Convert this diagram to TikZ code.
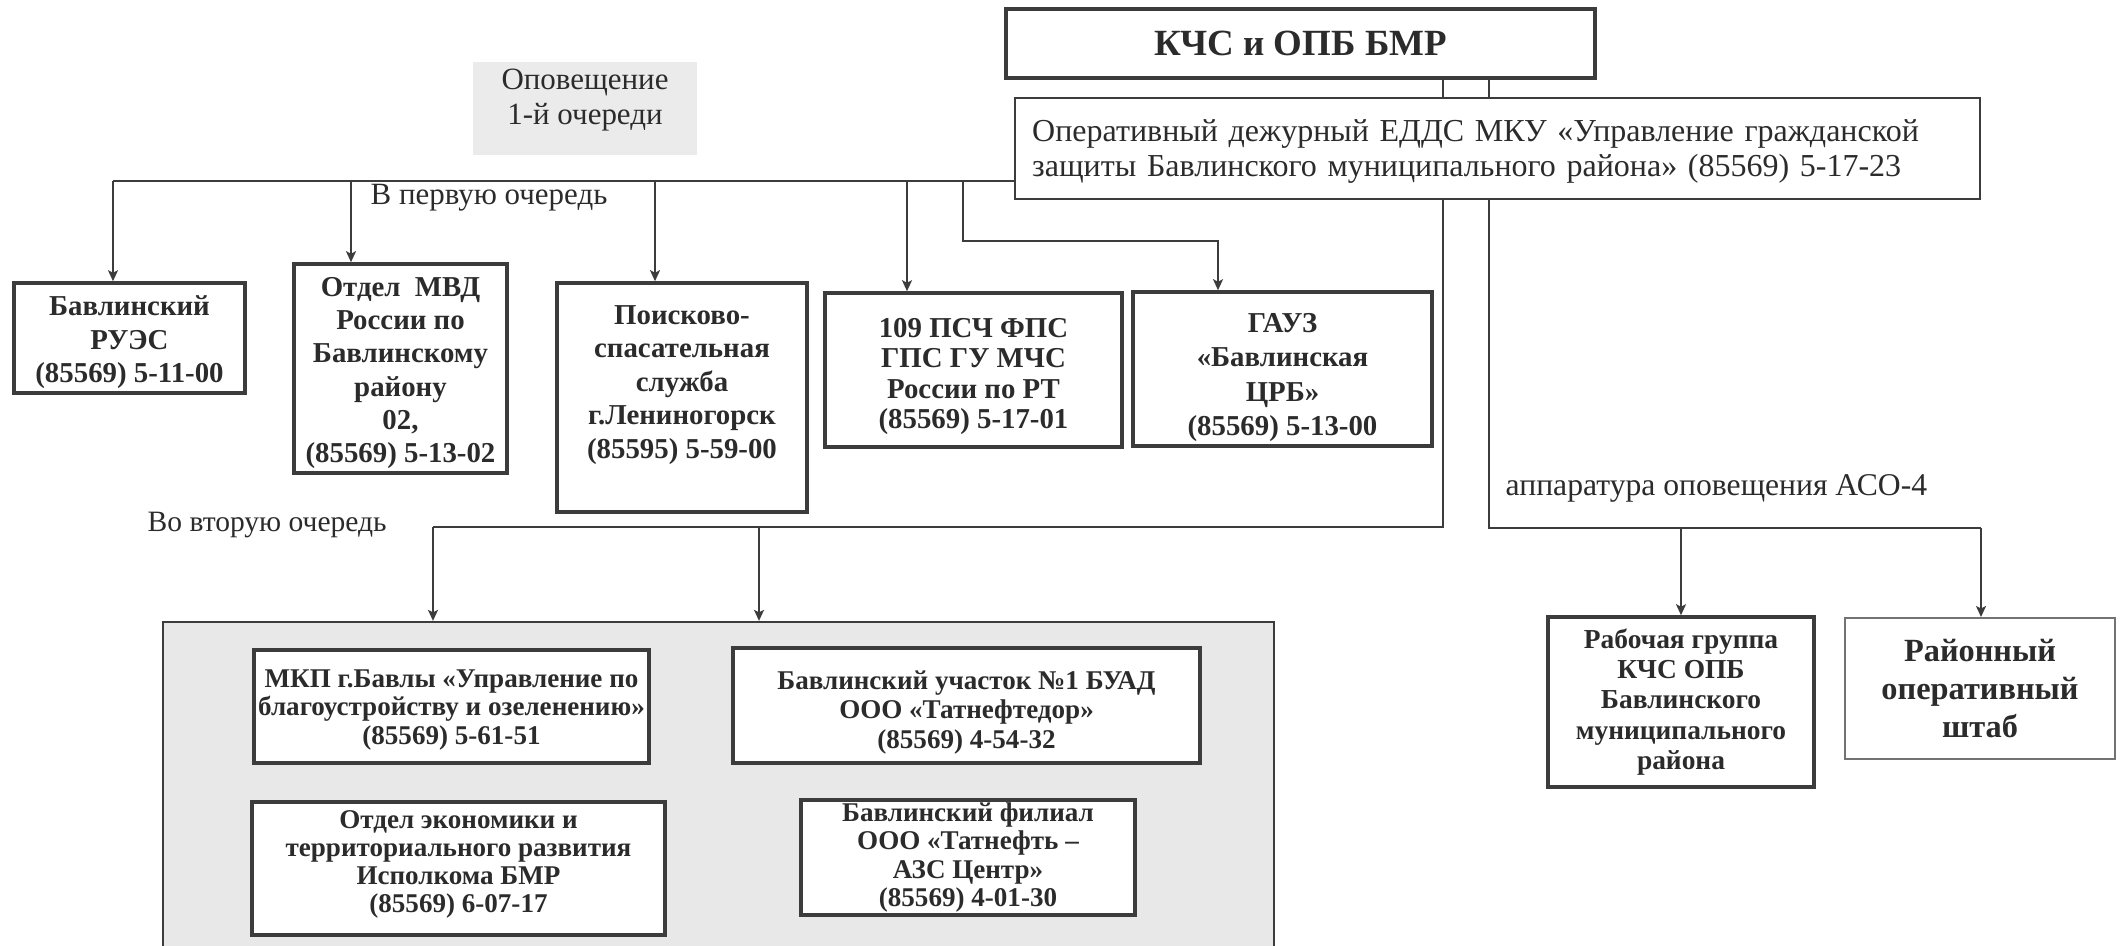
\documentclass[tikz,border=0pt]{standalone}
\usepackage{fontspec}
\setmainfont{Liberation Serif}
\usetikzlibrary{arrows.meta}
\definecolor{ink}{HTML}{2B2B2B}
\definecolor{lin}{HTML}{3C3C3C}
\definecolor{grayfill}{HTML}{E8E8E8}
\definecolor{opfill}{HTML}{EBEBEB}
\newcommand\tpad[1]{\rule{0pt}{#1}}
\begin{document}
\begin{tikzpicture}[x=0.01cm,y=-0.01cm,
  bx/.style={draw=lin, line width=1pt, fill=white, inner sep=0pt, align=center, text=ink},
  thinbx/.style={draw=lin, line width=0.55pt, fill=white, inner sep=0pt, text=ink},
  ln/.style={draw=lin, line width=0.5pt},
  arr/.style={ln, -{Stealth[length=1.1mm,width=1mm,inset=0.25mm]}},
  lbl/.style={text=ink, inner sep=0pt, font=\fontsize{8.8}{10}\selectfont},
  bfa/.style={font=\fontsize{8.2}{#1}\selectfont\bfseries},
  bfl/.style={font=\fontsize{7.7}{#1}\selectfont\bfseries},
  sz/.style 2 args={minimum width=#1cm, minimum height=#2cm}
]
\useasboundingbox[fill=white] (0,0) rectangle (2121,945);

% top
\node[bx, line width=1.3pt, sz={5.89}{0.69}, font=\fontsize{10.5}{12}\selectfont\bfseries] (kcs) at (1300.5,43.5) {КЧС и ОПБ БМР};
\node[thinbx, sz={9.65}{1.01}, align=left, text width=9.3cm, font=\fontsize{9.1}{9.8}\selectfont] (op) at (1497.5,148.5) {\tpad{7.9pt}Оперативный дежурный ЕДДС МКУ «Управление гражданской\\защиты Бавлинского муниципального района» (85569) 5-17-23};

\node[fill=opfill, inner sep=0pt, sz={2.24}{0.93}] (opov) at (585,108.5) {};
\node[lbl, align=center] (opovT) at (585,100) {Оповещение\\1-й очереди};

\node[lbl, anchor=west] (lab1) at (370,198) {В первую очередь};
\node[lbl, anchor=west, font=\fontsize{8.4}{10}\selectfont] (lab2) at (147,525) {Во вторую очередь};
\node[lbl, anchor=west, font=\fontsize{9}{10}\selectfont] (lab3) at (1505,488) {аппаратура оповещения АСО-4};

% first row
\node[bx, bfa=9.5, sz={2.31}{1.10}] (bavl) at (129.5,338) {\tpad{8pt}Бавлинский\\РУЭС\\(85569) 5-11-00};
\node[bx, bfa=9.4, sz={2.13}{2.09}] (mvd) at (400.5,368.5) {\tpad{8pt}Отдел~~МВД\\России по\\Бавлинскому\\району\\02,\\(85569) 5-13-02};
\node[bx, sz={2.50}{2.29}] (poisk) at (682,397.5) {};
\node[text=ink, align=center, inner sep=0pt, bfa=9.5] (poiskT) at (682,385) {Поисково-\\спасательная\\служба\\г.Лениногорск\\(85595) 5-59-00};
\node[bx, bfa=8.6, sz={2.97}{1.54}] (psch) at (973.5,370) {\tpad{9.1pt}109 ПСЧ ФПС\\ГПС ГУ МЧС\\России по РТ\\(85569) 5-17-01};
\node[bx, bfa=9.7, sz={2.99}{1.54}] (gauz) at (1282.5,369) {\tpad{10.3pt}ГАУЗ\\«Бавлинская\\ЦРБ»\\(85569) 5-13-00};

% right
\node[bx, sz={2.66}{1.70}, font=\fontsize{7.8}{8.6}\selectfont\bfseries] (rab) at (1681,702) {Рабочая группа\\КЧС ОПБ\\Бавлинского\\муниципального\\района};
\node[thinbx, draw=black!55, align=center, sz={2.70}{1.41}, font=\fontsize{9.2}{10.8}\selectfont\bfseries] (raion) at (1980,688.5) {Районный\\оперативный\\штаб};

% second group
\node[draw=lin, line width=0.6pt, fill=grayfill, inner sep=0pt, sz={11.11}{3.28}] (grp) at (718.5,786) {};
\node[bx, bfl=8, sz={3.95}{1.13}] (mkp) at (451.5,706.5) {\tpad{7pt}МКП г.Бавлы «Управление по\\благоустройству и озеленению»\\(85569) 5-61-51};
\node[bx, bfl=7.9, sz={4.13}{1.33}] (econ) at (458.5,868.5) {Отдел экономики и\\территориального развития\\Исполкома БМР\\(85569) 6-07-17\rule[-4pt]{0pt}{0pt}};
\node[bx, bfl=8.4, sz={4.67}{1.15}] (buad) at (966.5,705.5) {\tpad{9.3pt}Бавлинский участок №1 БУАД\\ООО «Татнефтедор»\\(85569) 4-54-32};
\node[bx, bfl=8, sz={3.34}{1.15}] (azs) at (968,857.5) {Бавлинский филиал\\ООО «Татнефть –\\АЗС Центр»\\(85569) 4-01-30};

% coordinates
\coordinate (kx1) at (1443,0);
\coordinate (kx2) at (1489,0);
\coordinate (t0) at (113,181);
\coordinate (t1) at (351,181);
\coordinate (t2) at (655,181);
\coordinate (t3) at (907,181);
\coordinate (g0) at (963,181);
\coordinate (g1) at (963,241);
\coordinate (g2) at (1218,241);
\coordinate (w0) at (433,527);
\coordinate (w1) at (759,527);
\coordinate (r0) at (1489,528);
\coordinate (r1) at (1681,528);
\coordinate (r2) at (1981,528);

% connectors
\draw[ln] (kx1 |- kcs.south) -- (kx1 |- op.north);
\draw[ln] (kx2 |- kcs.south) -- (kx2 |- op.north);
\draw[ln] (op.west |- t0) -- (t0);
\draw[arr] (t0) -- (t0 |- bavl.north);
\draw[arr] (t1) -- (t1 |- mvd.north);
\draw[arr] (t2) -- (t2 |- poisk.north);
\draw[arr] (t3) -- (t3 |- psch.north);
\draw[arr] (g0) -- (g1) -- (g2) -- (g2 |- gauz.north);
\draw[ln] (kx1 |- op.south) -- (kx1 |- w0) -- (w0);
\draw[arr] (w0) -- (w0 |- grp.north);
\draw[arr] (w1) -- (w1 |- grp.north);
\draw[ln] (kx2 |- op.south) -- (r0) -- (r2);
\draw[arr] (r1) -- (r1 |- rab.north);
\draw[arr] (r2) -- (r2 |- raion.north);
\end{tikzpicture}
\end{document}
